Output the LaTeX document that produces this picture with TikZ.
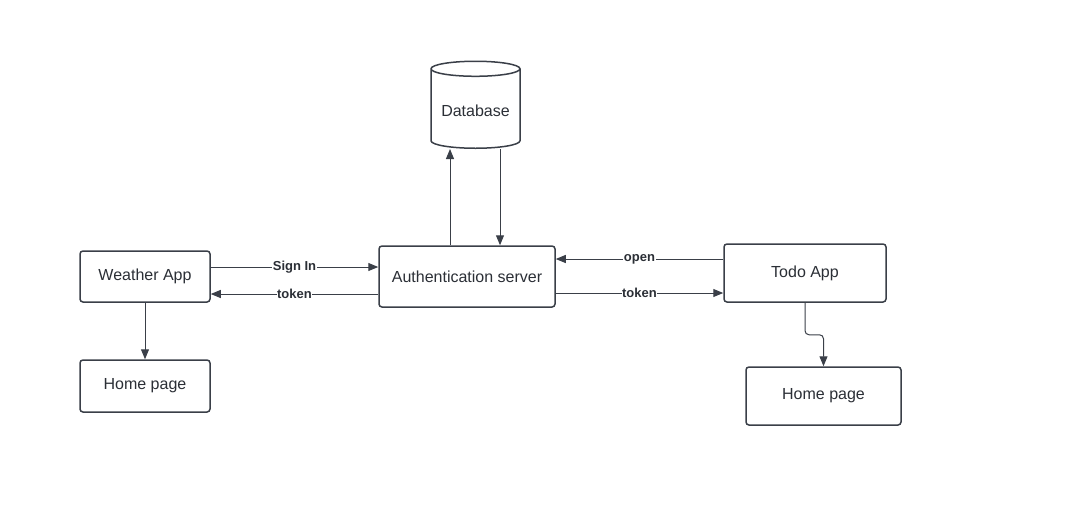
\documentclass[tikz,border=0pt]{standalone}
\usepackage{fontspec}
\setmainfont{Liberation Sans}
\usetikzlibrary{arrows.meta,shapes.geometric}
\definecolor{linegray}{HTML}{3A3F48}
\definecolor{textgray}{HTML}{2B2F36}

\begin{document}
\begin{tikzpicture}[x=1pt,y=-1pt,
  box/.style={draw=linegray, line width=1.5pt, rounded corners=3pt, fill=white,
    text=textgray, font=\fontsize{16}{18}\selectfont},
  link/.style={draw=linegray, line width=1pt, -{Triangle[length=10pt,width=8pt]}},
  lbl/.style={fill=white, inner sep=0.5pt, text=textgray,
    font=\fontsize{13}{15}\selectfont\bfseries}]
  \useasboundingbox (0,0) rectangle (1080,523);

  \node[box, minimum width=130, minimum height=51] (weather) at (145,276.5) {Weather App};
  \node[box, minimum width=130, minimum height=52] (home_w) at (145,386) {Home page};
  \node[box, minimum width=176, minimum height=61] (auth) at (467,276.5) {Authentication server};
  \node[box, minimum width=162, minimum height=58] (todo) at (805,273) {Todo App};
  \node[box, minimum width=155, minimum height=58] (home_t) at (823.5,396) {Home page};
  \node[box, rounded corners=0pt, cylinder, shape border rotate=90, aspect=0.2,
    minimum width=89, minimum height=87, anchor=south] (db) at (475.5,149) {Database};

  \coordinate (db_up) at ([xshift=-17pt]auth.north);
  \coordinate (db_down) at ([xshift=33pt]auth.north);
  \coordinate (open_in) at ([yshift=14pt]todo.west);
  \coordinate (tok_out) at ([yshift=-20pt]todo.west);

  \draw[link] ([yshift=9.5pt]weather.east) -- node[lbl] {Sign In} ([yshift=9.5pt]auth.west);
  \draw[link] ([yshift=-17.5pt]auth.west) -- node[lbl] {token} ([yshift=-17.5pt]weather.east);
  \draw[link] (open_in) -- node[lbl] {open} (open_in -| auth.east);
  \draw[link] (tok_out -| auth.east) -- node[lbl] {token} (tok_out);

  \draw[link] (db_up) -- (db_up |- db.south);
  \draw[link] (db_down |- db.south) -- (db_down);

  \draw[link] (weather.south) -- (home_w.north);
  \draw[link, rounded corners=4pt] (todo.south) -- ++(0,32) -| (home_t.north);
\end{tikzpicture}
\end{document}
